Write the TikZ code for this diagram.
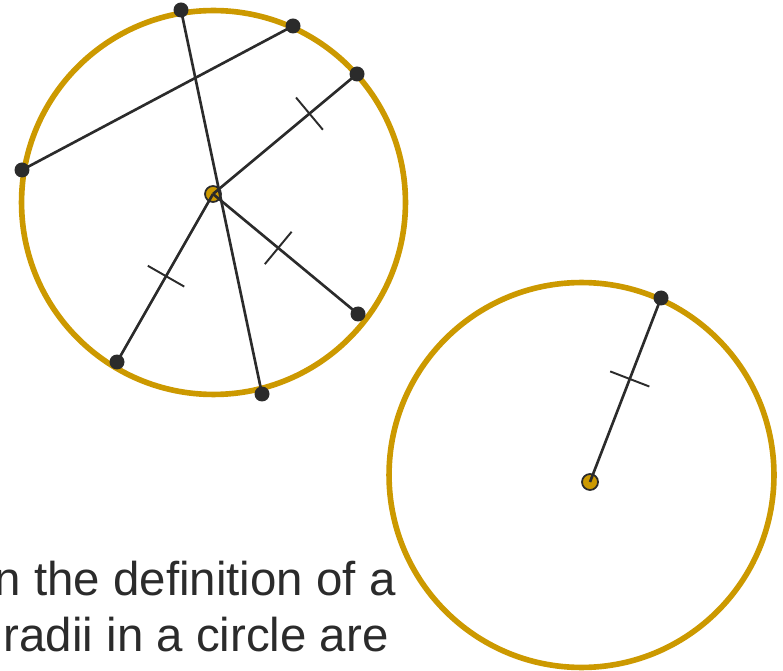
\documentclass[tikz,border=0pt]{standalone}
\usepackage{fontspec}
\setmainfont{Liberation Sans}
\usetikzlibrary{decorations.markings}
\definecolor{rimgold}{RGB}{204,153,0}
\definecolor{inkgray}{RGB}{43,43,43}
\begin{document}
\begin{tikzpicture}[
    x=0.02cm, y=-0.02cm,
    rim/.style={draw=rimgold, line width=3.2pt},
    seg/.style={draw=inkgray, line width=1.5pt},
    dot/.style={circle, fill=inkgray, inner sep=0pt, minimum size=0.3cm},
    hub/.style={circle, fill=rimgold, draw=inkgray, line width=1pt, inner sep=0pt, minimum size=0.32cm},
    tickat/.style={postaction={decorate, decoration={markings,
        mark=at position #1 with {\draw[inkgray, line width=1.1pt] (0,-0.42cm) -- (0,0.42cm);}}}},
    caption/.style={anchor=base east, text=inkgray, font=\fontsize{27}{33}\selectfont, inner sep=0pt},
]
    \useasboundingbox (0,0) rectangle (783,671);

    % Left circle
    \draw[rim] (213.5,202.5) circle[radius=3.84cm];
    \node[hub] (c1) at (213,194) {};
    \node[dot] (top) at (181,10) {};
    \node[dot] (bot) at (262,394) {};
    \node[dot] (ch1) at (22,170) {};
    \node[dot] (ch2) at (293,26) {};
    \node[dot] (r1) at (357,74) {};
    \node[dot] (r2) at (117,362) {};
    \node[dot] (r3) at (358,314) {};

    % chords and radii
    \draw[seg] (top.center) -- (bot.center);
    \draw[seg] (ch1.center) -- (ch2.center);
    \draw[seg, tickat=0.67] (c1.center) -- (r1.center);
    \draw[seg, tickat=0.49] (c1.center) -- (r2.center);
    \draw[seg, tickat=0.45] (c1.center) -- (r3.center);

    % Right circle
    \draw[rim] (581.5,475) circle[radius=3.85cm];
    \node[hub] (c2) at (590,482) {};
    \node[dot] (r4) at (661,298) {};
    \draw[seg, tickat=0.56] (c2.center) -- (r4.center);

    % Text (cut off at the left)
    \node[caption] (line1) at (396,595) {n the definition of a};
    \node[caption] (line2) at (389,651) {radii in a circle are};
\end{tikzpicture}
\end{document}
